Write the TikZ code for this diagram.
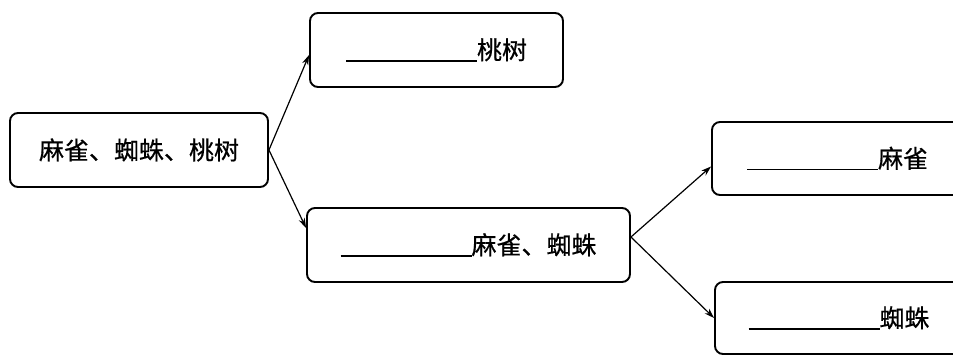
\documentclass[tikz,border=0pt]{standalone}
\usepackage{fontspec}
\setmainfont{Noto Sans CJK SC}[FakeBold=0.6]
\usetikzlibrary{arrows.meta}
\begin{document}
\begin{tikzpicture}[x=1pt,y=-1pt,
  box/.style={draw=black, line width=1.9pt, rounded corners=8pt, fill=white,
    inner sep=0pt, font=\fontsize{25}{30}\selectfont, text=black},
  conn/.style={draw=black, line width=1.2pt, -{Stealth[length=10pt,width=6.5pt]}},
]
\useasboundingbox (0,0) rectangle (953,354);
\clip (0,0) rectangle (953,354);
\fill[white] (0,0) rectangle (953,354);
\newcommand{\blank}{\rule[-2.5pt]{131pt}{1.4pt}}
\node[box, minimum width=258pt, minimum height=74pt] (lb) at (139,150) {麻雀、蜘蛛、桃树};
\node[box, minimum width=253pt, minimum height=74pt] (top) at (436.5,50) {\blank 桃树};
\node[box, minimum width=323pt, minimum height=74pt] (mid) at (468.5,245) {\blank 麻雀、蜘蛛};
\node[box, minimum width=251pt, minimum height=73pt] (rt) at (837.5,158.5) {\blank 麻雀};
\node[box, minimum width=248pt, minimum height=72pt] (rb) at (839,318) {\blank 蜘蛛};
\draw[conn] (lb.east) -- ([yshift=-5pt]top.west);
\draw[conn] (lb.east) -- ([yshift=17pt]mid.west);
\draw[conn] ([yshift=8pt]mid.east) -- ([yshift=-8pt]rt.west);
\draw[conn] ([yshift=8pt]mid.east) -- (rb.west);
\end{tikzpicture}
\end{document}
